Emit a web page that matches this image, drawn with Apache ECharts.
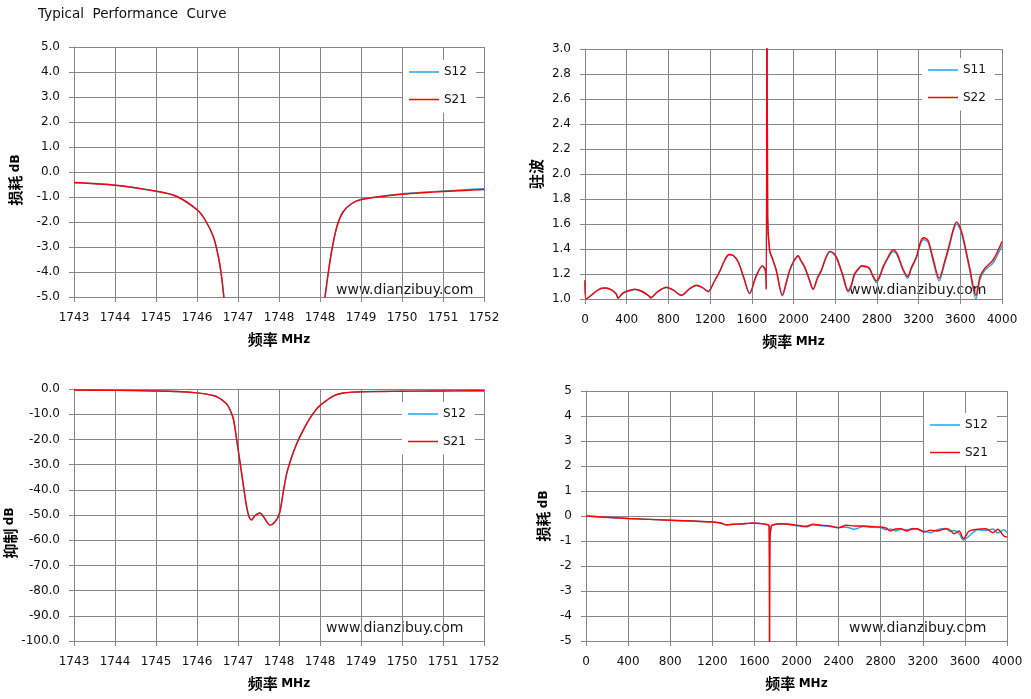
<!DOCTYPE html>
<html>
<head>
<meta charset="utf-8">
<script src="https://cdn.jsdelivr.net/npm/echarts@6/dist/echarts.min.js"></script>
<style>
html,body{margin:0;padding:0;background:#fff;}
#c{width:1031px;height:699px;}
</style>
</head>
<body>
<div id="c"></div>
<script>
// ---------- DATA ----------
// Narrow band (1743-1752 MHz), used by the insertion-loss zoom and the rejection plot
const narrowFreq = [1743.00, 1743.91, 1744.81, 1745.25, 1745.71, 1745.88, 1746.06, 1746.17, 1746.24, 1746.29,
  1746.35, 1746.42, 1746.50, 1746.57, 1746.68, 1746.79, 1746.85, 1746.90, 1746.97, 1747.08,
  1747.19, 1747.30, 1747.41, 1747.51, 1747.60, 1747.67, 1747.78, 1747.87, 1747.96, 1748.07,
  1748.18, 1748.33, 1748.41, 1748.51, 1748.58, 1748.66, 1748.77, 1748.91, 1749.10, 1749.31,
  1749.79, 1750.21, 1750.66, 1751.11, 1751.56, 1752.00];
const narrowS21 = [-0.42, -0.53, -0.77, -0.97, -1.52, -1.92, -2.59, -3.39, -4.19, -5.0,
  -5.9, -8.0, -12.0, -20.0, -33.5, -46.8, -51.0, -52.0, -50.3, -49.2,
  -51.5, -54.0, -52.8, -49.4, -40.1, -33.5, -26.9, -22.5, -18.9, -15.0,
  -11.6, -7.8, -6.4, -5.0, -4.05, -3.12, -2.19, -1.59, -1.26, -1.10,
  -0.97, -0.89, -0.83, -0.78, -0.74, -0.70];
const narrowS12 = [-0.43, -0.53, -0.77, -0.98, -1.53, -1.93, -2.60, -3.40, -4.20, -5.0,
  -5.9, -8.0, -12.0, -20.0, -33.5, -46.8, -51.0, -52.0, -50.3, -49.2,
  -51.5, -54.0, -52.8, -49.4, -40.1, -33.5, -26.9, -22.5, -18.9, -15.0,
  -11.6, -7.8, -6.4, -5.0, -4.05, -3.12, -2.19, -1.58, -1.25, -1.09,
  -0.96, -0.87, -0.81, -0.76, -0.71, -0.67];

// Wide band VSWR (0-4000 MHz)
const vswrFreq = [0, 10, 60, 120, 173, 205, 250, 300, 316, 360, 396, 476, 550, 620, 627, 700, 780, 850, 924, 1000,
  1068, 1130, 1180, 1240, 1292, 1340, 1381, 1420, 1468, 1520, 1579, 1640, 1701, 1730, 1739, 1746, 1752, 1771, 1800, 1835,
  1893, 1930, 1963, 2000, 2044, 2070, 2107, 2150, 2188, 2230, 2267, 2310, 2348, 2380, 2411, 2470, 2524, 2550, 2587, 2630,
  2652, 2700, 2731, 2760, 2796, 2830, 2859, 2910, 2956, 2990, 3019, 3050, 3094, 3130, 3178, 3220, 3250, 3290, 3340, 3397,
  3450, 3498, 3530, 3564, 3600, 3626, 3690, 3750, 3790, 3836, 3916, 4000];
const vswrS22 = [1.15, 1.00, 1.03, 1.07, 1.088, 1.088, 1.075, 1.04, 1.008, 1.045, 1.06, 1.078, 1.06, 1.02, 1.01, 1.06, 1.094, 1.07, 1.03, 1.08,
  1.11, 1.09, 1.06, 1.14, 1.22, 1.31, 1.356, 1.35, 1.30, 1.18, 1.045, 1.18, 1.265, 1.23, 1.08, 4.0, 1.66, 1.39, 1.32, 1.23,
  1.03, 1.13, 1.23, 1.30, 1.346, 1.31, 1.257, 1.16, 1.08, 1.17, 1.23, 1.33, 1.381, 1.37, 1.337, 1.20, 1.067, 1.10, 1.203, 1.25,
  1.266, 1.26, 1.243, 1.19, 1.145, 1.19, 1.257, 1.34, 1.395, 1.37, 1.31, 1.24, 1.18, 1.25, 1.337, 1.46, 1.49, 1.47, 1.32, 1.166,
  1.30, 1.444, 1.55, 1.617, 1.57, 1.497, 1.25, 1.03, 1.18, 1.247, 1.314, 1.46];
const vswrS11 = [1.15, 1.00, 1.03, 1.07, 1.086, 1.086, 1.073, 1.038, 1.006, 1.043, 1.058, 1.076, 1.058, 1.018, 1.008, 1.058, 1.092, 1.068, 1.028, 1.078,
  1.108, 1.088, 1.058, 1.14, 1.22, 1.31, 1.354, 1.348, 1.298, 1.178, 1.043, 1.178, 1.263, 1.228, 1.08, 4.0, 1.65, 1.385, 1.315, 1.225,
  1.025, 1.125, 1.225, 1.295, 1.34, 1.305, 1.25, 1.155, 1.075, 1.165, 1.225, 1.325, 1.375, 1.365, 1.33, 1.19, 1.055, 1.09, 1.195, 1.245,
  1.26, 1.255, 1.237, 1.18, 1.13, 1.18, 1.247, 1.33, 1.38, 1.358, 1.30, 1.23, 1.165, 1.24, 1.325, 1.445, 1.475, 1.455, 1.30, 1.145,
  1.285, 1.43, 1.535, 1.60, 1.555, 1.48, 1.23, 1.00, 1.16, 1.23, 1.29, 1.43];

// Wide band insertion loss (0-4000 MHz)
const wideFreq = [0, 400, 800, 1200, 1280, 1333, 1400, 1460, 1520, 1587, 1650, 1729, 1740, 1744, 1748, 1761, 1777, 1846, 1903, 2000,
  2050, 2094, 2157, 2220, 2317, 2396, 2476, 2550, 2636, 2700, 2796, 2850, 2892, 2940, 2987, 3051, 3100, 3147, 3210, 3274,
  3338, 3418, 3460, 3497, 3545, 3587, 3641, 3721, 3800, 3864, 3912, 3970, 4000];
const wideS21 = [0.0, -0.10, -0.17, -0.24, -0.28, -0.36, -0.33, -0.32, -0.30, -0.28, -0.30, -0.35, -0.40, -8.0, -0.90, -0.41, -0.35, -0.31, -0.32, -0.37,
  -0.40, -0.41, -0.33, -0.36, -0.40, -0.47, -0.37, -0.40, -0.40, -0.42, -0.44, -0.48, -0.60, -0.52, -0.51, -0.60, -0.52, -0.51, -0.64, -0.57,
  -0.60, -0.51, -0.56, -0.71, -0.60, -0.91, -0.60, -0.53, -0.51, -0.67, -0.53, -0.80, -0.84];
const wideS12 = [0.0, -0.10, -0.17, -0.24, -0.28, -0.35, -0.33, -0.32, -0.30, -0.28, -0.30, -0.35, -0.40, -1.70, -0.80, -0.41, -0.36, -0.32, -0.33, -0.39,
  -0.42, -0.44, -0.35, -0.38, -0.42, -0.46, -0.45, -0.53, -0.42, -0.45, -0.46, -0.55, -0.52, -0.60, -0.53, -0.55, -0.50, -0.53, -0.60, -0.67,
  -0.55, -0.50, -0.62, -0.58, -0.70, -0.96, -0.80, -0.55, -0.58, -0.52, -0.68, -0.55, -0.67];

// Texts
const titleText = 'Typical  Performance  Curve';
const watermark = 'www.dianzibuy.com';
const xNameMHz = '{c|频率} {l|MHz}';
const yNameLoss = '{c|损耗} {l|dB}';
const yNameVswr = '{c|驻波}';
const yNameRej = '{c|抑制} {l|dB}';

// ---------- STYLE ----------
const FONT = "'DejaVu Sans','Noto Sans CJK SC',sans-serif";
const CJK = "'Noto Sans CJK SC',sans-serif";
const GRID_C = '#868686';
const BLUE = '#1fa5e6';
const RED = '#ff0000';
const pairs = (xs, ys) => xs.map((x, i) => [x, ys[i]]);
const nameRich = {
  c: {fontSize: 15, fontWeight: 'bold', fontFamily: CJK, color: '#000'},
  l: {fontSize: 12, fontWeight: 'bold', fontFamily: FONT, color: '#000'}
};

function xAxisCfg(gi, min, max, interval, fmt) {
  return {
    type: 'value', gridIndex: gi, min, max, interval,
    name: xNameMHz, nameLocation: 'middle', nameGap: 35,
    nameTextStyle: {rich: nameRich},
    axisLine: {show: true, onZero: false, lineStyle: {color: GRID_C, width: 1}},
    axisTick: {show: true, length: 5, lineStyle: {color: GRID_C}},
    axisLabel: {margin: 15, fontSize: 12, fontFamily: FONT, color: '#111', formatter: fmt, showMinLabel: true, showMaxLabel: true},
    splitLine: {show: true, lineStyle: {color: GRID_C, width: 1}}
  };
}
function yAxisCfg(gi, min, max, interval, fmt, name, gap, pad) {
  return {
    type: 'value', gridIndex: gi, min, max, interval,
    name, nameLocation: 'middle', nameGap: gap,
    nameTextStyle: {rich: nameRich, padding: pad},
    axisLine: {show: true, onZero: false, lineStyle: {color: GRID_C, width: 1}},
    axisTick: {show: true, length: 5, lineStyle: {color: GRID_C}},
    axisLabel: {margin: 14, fontSize: 12, fontFamily: FONT, color: '#111', formatter: fmt, showMinLabel: true, showMaxLabel: true},
    splitLine: {show: true, lineStyle: {color: GRID_C, width: 1}}
  };
}
function lineSeries(name, color, gi, data, smooth) {
  return {
    type: 'line', name, xAxisIndex: gi, yAxisIndex: gi, data,
    symbol: 'none', showSymbol: false, smooth: smooth || false, clip: true,
    lineStyle: {color, width: 1.4}, itemStyle: {color},
    animation: false
  };
}
function legendCfg(names, left, top) {
  return {
    data: names, left, top, orient: 'vertical',
    backgroundColor: '#fff', padding: [6, 9, 7, 6],
    icon: 'rect', itemWidth: 30, itemHeight: 1.5, itemGap: 15.5,
    textStyle: {fontSize: 12, fontFamily: FONT, color: '#111'},
    selectedMode: false
  };
}
function wm(left, top) {
  return {type: 'text', left, top, style: {text: watermark, fontSize: 14, fontFamily: FONT, fill: '#1a1a1a'}};
}

const fmtInt = v => String(Math.round(v));
const fmt1 = v => v.toFixed(1);

const option = {
  animation: false,
  backgroundColor: '#fff',
  grid: [
    {left: 74, top: 47, width: 410, height: 250},
    {left: 585, top: 49, width: 417, height: 250},
    {left: 74, top: 389, width: 410, height: 252},
    {left: 586, top: 391, width: 421, height: 250}
  ],
  xAxis: [
    xAxisCfg(0, 1743, 1752, 0.9, fmtInt),
    xAxisCfg(1, 0, 4000, 400, fmtInt),
    xAxisCfg(2, 1743, 1752, 0.9, fmtInt),
    xAxisCfg(3, 0, 4000, 400, fmtInt)
  ],
  yAxis: [
    yAxisCfg(0, -5, 5, 1, fmt1, yNameLoss, 51, [0, 16, 0, 0]),
    yAxisCfg(1, 1, 3, 0.2, fmt1, yNameVswr, 41, 0),
    yAxisCfg(2, -100, 0, 10, fmt1, yNameRej, 51, [0, 36, 0, 0]),
    yAxisCfg(3, -5, 5, 1, fmtInt, yNameLoss, 35, 0)
  ],
  legend: [
    legendCfg(['S12', 'S21'], 403, 60),
    legendCfg(['S11', 'S22'], 922, 58),
    legendCfg(['S12', 'S21'], 402, 402),
    legendCfg(['S12', 'S21'], 924, 413)
  ],
  series: [
    lineSeries('S12', BLUE, 0, pairs(narrowFreq, narrowS12), 0.3),
    lineSeries('S21', RED, 0, pairs(narrowFreq, narrowS21), 0.3),
    lineSeries('S11', BLUE, 1, pairs(vswrFreq, vswrS11), 0.3),
    lineSeries('S22', RED, 1, pairs(vswrFreq, vswrS22), 0.3),
    lineSeries('S12', BLUE, 2, pairs(narrowFreq, narrowS12), 0.3),
    lineSeries('S21', RED, 2, pairs(narrowFreq, narrowS21), 0.3),
    lineSeries('S12', BLUE, 3, pairs(wideFreq, wideS12), 0.3),
    lineSeries('S21', RED, 3, pairs(wideFreq, wideS21), 0.3)
  ],
  graphic: [
    {type: 'text', left: 38, top: 8, style: {text: titleText, fontSize: 13.5, fontFamily: FONT, fill: '#111'}},
    wm(336, 283), wm(849, 283), wm(326, 621), wm(849, 621)
  ]
};

const chart = echarts.init(document.getElementById('c'), null, {renderer: 'canvas'});
chart.setOption(option);
</script>
</body>
</html>
